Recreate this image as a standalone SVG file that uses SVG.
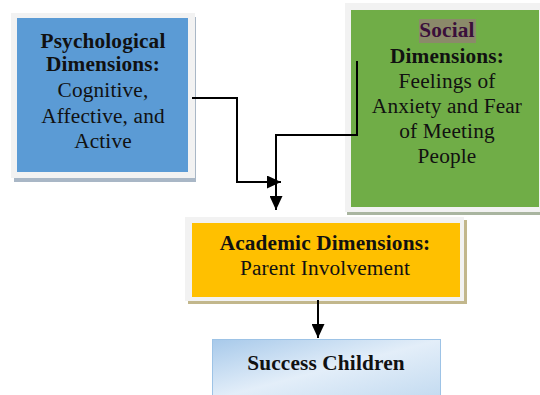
<svg xmlns="http://www.w3.org/2000/svg" width="540" height="395" viewBox="0 0 540 395">
<style>
.t{font-family:"Liberation Serif","Times New Roman",serif;font-size:21.3px;letter-spacing:0.15px;fill:#111;text-anchor:middle}
.b{font-weight:bold}
.frame{fill:#f2f2f2}
.ln{fill:none;stroke:#000;stroke-width:2}
</style>
<defs>
<marker id="ah" markerUnits="userSpaceOnUse" markerWidth="14" markerHeight="13" refX="14" refY="6.5" orient="auto">
<path d="M0,0 L14,6.5 L0,13 z" fill="#000"/>
</marker>
<linearGradient id="sg" x1="0" y1="0" x2="1" y2="1">
<stop offset="0" stop-color="#a7c9ea"/>
<stop offset="0.5" stop-color="#e3eef9"/>
<stop offset="1" stop-color="#c2daf0"/>
</linearGradient>
</defs>
<rect width="540" height="395" fill="#fff"/>
<g id="psychological">
<rect x="14" y="17" width="182" height="165" fill="#a9b7c6"/>
<rect x="11" y="13" width="184" height="165" class="frame"/>
<rect x="17" y="18" width="171" height="154" fill="#5b9bd5"/>
<text class="t b" x="103" y="48">Psychological</text>
<text class="t b" x="103" y="71">Dimensions:</text>
<text class="t" x="103" y="97">Cognitive,</text>
<text class="t" x="103" y="123">Affective, and</text>
<text class="t" x="103" y="148">Active</text>
</g>
<g id="social">
<rect x="347" y="6" width="200" height="209" fill="#a9b5a0"/>
<rect x="345" y="3" width="200" height="209" class="frame"/>
<rect x="351" y="10" width="188" height="197" fill="#70ad47"/>
<rect x="419" y="19" width="57" height="24" fill="#8b8a6a"/>
<text class="t b" x="447" y="37" style="fill:#3a0f3a">Social</text>
<text class="t b" x="447" y="63">Dimensions:</text>
<text class="t" x="447" y="88">Feelings of</text>
<text class="t" x="447" y="113">Anxiety and Fear</text>
<text class="t" x="447" y="138">of Meeting</text>
<text class="t" x="447" y="163">People</text>
</g>
<g id="academic">
<rect x="188" y="220" width="279" height="84" fill="#c2b78c"/>
<rect x="185" y="217" width="279" height="84" class="frame"/>
<rect x="192" y="223" width="268" height="74" fill="#ffc000"/>
<text class="t b" x="325" y="250">Academic Dimensions:</text>
<text class="t" x="325" y="275">Parent Involvement</text>
</g>
<g id="success">
<rect x="212.5" y="339.5" width="228" height="60" fill="url(#sg)" stroke="#9dc3e6" stroke-width="1"/>
<text class="t b" x="326" y="370">Success Children</text>
</g>
<g id="connectors">
<polyline class="ln" points="192,98 237,98 237,182 281,182" marker-end="url(#ah)"/>
<polyline class="ln" points="357,61 357,135 276,135 276,210" marker-end="url(#ah)"/>
<line class="ln" x1="318" y1="300" x2="318" y2="338" marker-end="url(#ah)"/>
</g>
</svg>
